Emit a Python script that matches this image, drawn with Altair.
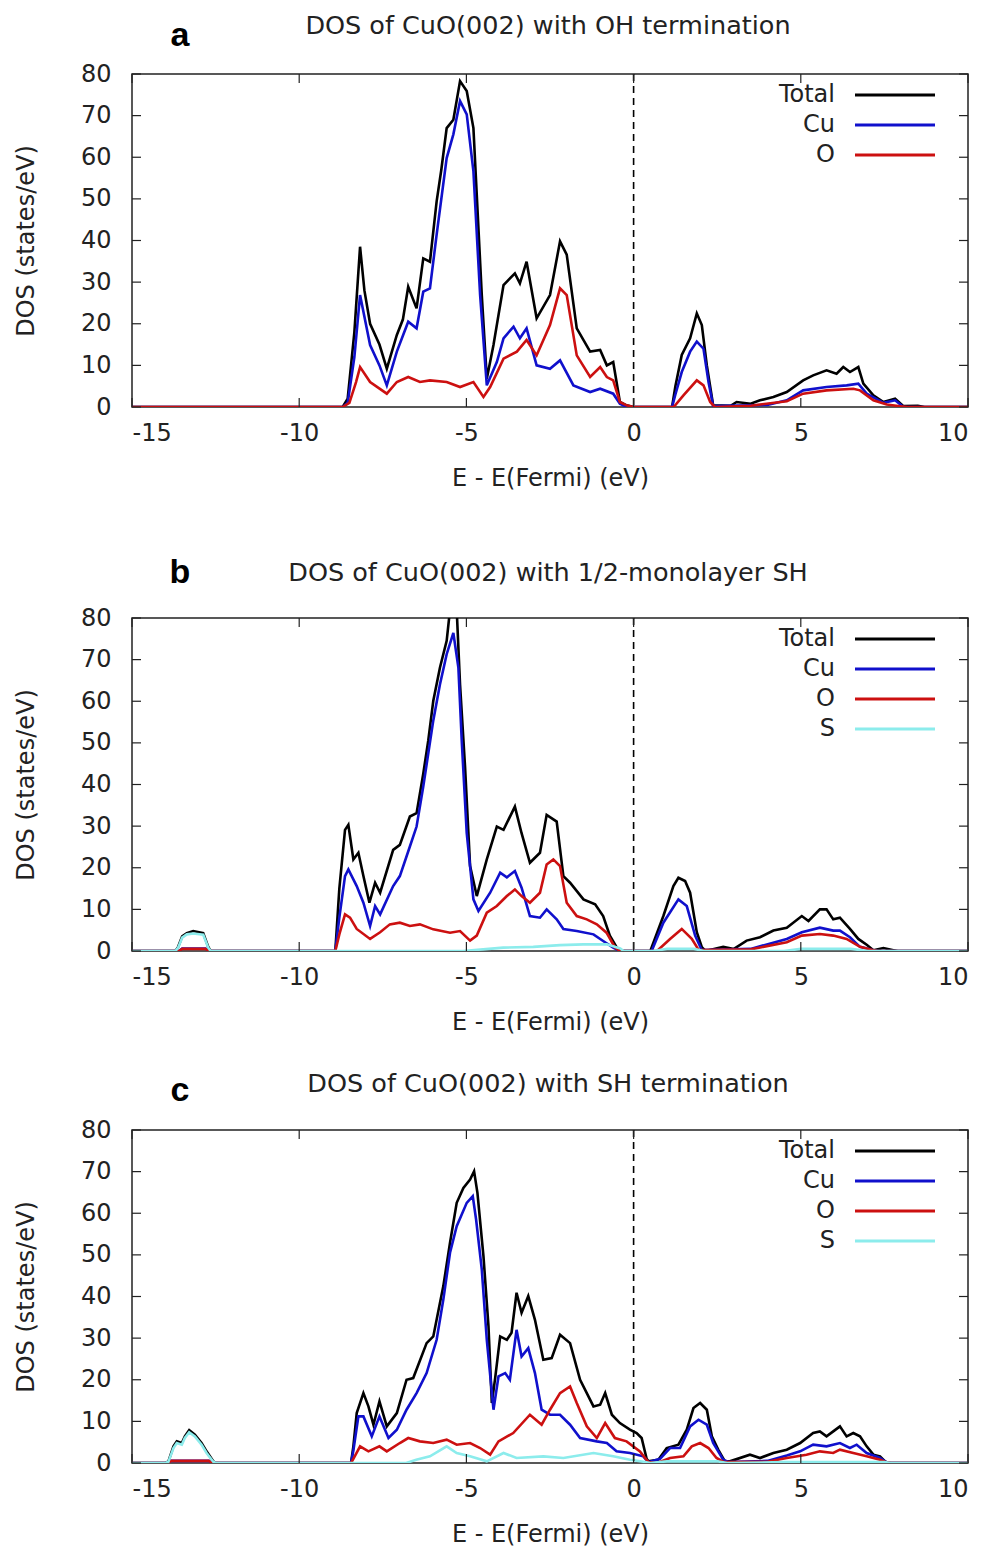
import altair as alt
import pandas as pd

FONT = "DejaVu Sans"
W, H = 836, 333
X_TICKS = [-15, -10, -5, 0, 5, 10]
Y_TICKS = [0, 10, 20, 30, 40, 50, 60, 70, 80]
COLORS = {"Total": "#000000", "Cu": "#1010cc", "O": "#cc1010", "S": "#8cecec"}

TITLES = ["DOS of CuO(002) with OH termination",
          "DOS of CuO(002) with 1/2-monolayer SH",
          "DOS of CuO(002) with SH termination"]
LETTERS = ["a", "b", "c"]

# ---------------- panel a ----------------
A_TOTAL_E = [-15, -8.7, -8.55, -8.35, -8.18, -8.05, -7.88, -7.6, -7.38, -7.08, -6.9, -6.74, -6.49, -6.29, -6.09,
             -5.89, -5.75, -5.59, -5.39, -5.19, -4.99, -4.79, -4.69, -4.54, -4.39, -4.19, -3.89, -3.55, -3.40,
             -3.20, -2.90, -2.50, -2.20, -2.00, -1.70, -1.30, -1.00, -0.80, -0.61, -0.41, -0.21, 0.0, 1.15, 1.25,
             1.44, 1.69, 1.89, 2.04, 2.19, 2.38, 2.9, 3.08, 3.5, 3.78, 4.18, 4.58, 5.07, 5.37, 5.77, 6.07, 6.27,
             6.47, 6.72, 6.87, 7.17, 7.47, 7.82, 8.07, 8.5, 8.7, 10]
A_TOTAL_V = [0, 0, 2, 18, 38.5, 28, 20, 15, 9.2, 17.3, 21, 28.9, 23.7, 35.7, 34.9,
             49.4, 57, 67, 69, 78.3, 75.9, 67, 51, 26.9, 6.8, 14.9, 29.3, 32.1, 29.7,
             34.9, 21.3, 26.9, 39.8, 36.6, 18.9, 13.3, 13.7, 10, 10.8, 1.2, 0.4, 0, 0, 5,
             12.5, 16.5, 22.5, 19.7, 10, 0.4, 0.3, 1.2, 0.8, 1.6, 2.4, 3.6, 6.4, 7.6, 8.8, 8.0, 9.6,
             8.4, 9.6, 5.6, 2.8, 1.2, 2.0, 0.2, 0.3, 0, 0]
A_CU_E = [-15, -8.7, -8.55, -8.35, -8.18, -7.88, -7.6, -7.38, -7.08, -6.74, -6.49, -6.29, -6.09, -5.89, -5.59,
          -5.39, -5.19, -4.99, -4.79, -4.59, -4.39, -4.09, -3.89, -3.59, -3.40, -3.20, -2.90, -2.50, -2.20,
          -1.80, -1.30, -1.00, -0.61, -0.41, -0.2, 1.15, 1.25, 1.44, 1.69, 1.89, 2.09, 2.24, 2.38, 4.0, 4.58,
          5.07, 5.77, 6.37, 6.72, 6.97, 7.47, 7.82, 8.07, 10]
A_CU_V = [0, 0, 1, 12, 26.9, 14.9, 10, 5.2, 13.3, 20.5, 18.9, 27.7, 28.5, 41.4, 59.8,
          65.5, 73.5, 70.3, 56.6, 26.9, 5.2, 10.8, 16.5, 19.3, 16.5, 18.9, 10, 9.2, 11.2,
          5.2, 3.6, 4.4, 3.2, 0.8, 0, 0, 3, 8.4, 13.3, 15.7, 14, 6, 0.2, 0.5, 1.6,
          4, 4.8, 5.2, 5.6, 3.2, 1.0, 1.6, 0, 0]
A_O_E = [-15, -8.7, -8.5, -8.3, -8.18, -7.88, -7.38, -7.08, -6.74, -6.39, -6.09, -5.59, -5.19, -4.79, -4.49,
         -4.29, -3.89, -3.49, -3.20, -2.90, -2.50, -2.20, -2.00, -1.70, -1.30, -1.00, -0.80, -0.61, -0.41,
         -0.21, 0, 1.2, 1.49, 1.89, 2.09, 2.29, 2.43, 3.5, 4.58, 5.07, 5.77, 6.57, 6.77, 7.17, 7.57, 7.97,
         8.2, 10]
A_O_V = [0, 0, 1, 6, 9.6, 6, 3.2, 6, 7.2, 6, 6.4, 6, 4.8, 6, 2.4,
         4.8, 11.6, 13.3, 16.1, 12.4, 19.7, 28.5, 26.9, 12.4, 7.2, 9.6, 7.2, 6.4, 1.2,
         0.4, 0, 0, 2.8, 6.4, 5.2, 1.2, 0, 0.3, 1.4, 3.2, 4, 4.4, 4, 1.6, 0.6, 0.2,
         0, 0]

# ---------------- panel b ----------------
B_TOTAL_E = [-15, -13.7, -13.62, -13.5, -13.36, -13.17, -12.87, -12.72, -12.65, -8.92, -8.8, -8.63, -8.53,
             -8.38, -8.23, -8.08, -7.90, -7.73, -7.58, -7.19, -6.99, -6.69, -6.49, -6.29, -6.14, -5.99, -5.79,
             -5.59, -5.49, -5.29, -5.19, -5.04, -4.89, -4.69, -4.39, -4.09, -3.89, -3.55, -3.35, -3.10, -2.80,
             -2.60, -2.30, -2.10, -1.90, -1.50, -1.15, -0.91, -0.71, -0.51, -0.36, 0.5, 0.89, 1.19, 1.34, 1.54,
             1.69, 1.89, 2.04, 2.15, 2.68, 3.0, 3.38, 3.78, 4.18, 4.58, 5.03, 5.23, 5.57, 5.77, 5.97, 6.17,
             6.47, 6.72, 6.97, 7.17, 7.47, 7.77, 7.9, 10]
B_TOTAL_V = [0, 0, 1, 3.5, 4.3, 4.8, 4.3, 1, 0, 0, 15, 29.1, 30.3,
             22, 23.6, 18, 11.6, 16.4, 14, 24.3, 25.5, 32.3, 33.1, 42.6, 50.6, 60.1, 68.1,
             74.5, 82, 82, 64, 44.2, 20.4, 13.2, 22, 29.9, 29.1, 34.7, 28.3, 21.2, 23.6,
             32.7, 31.1, 18, 16.4, 12.4, 11.2, 8.4, 3.7, 0.9, 0, 0, 8.4, 15.6, 17.6, 16.8,
             14, 4.5, 0.9, 0, 1, 0.5, 2.5, 3.3, 4.9, 5.6, 8.4, 7.2, 10, 10, 7.6, 8,
             5.3, 2.9, 1.5, 0.2, 0.7, 0.2, 0, 0]
B_CU_E = [-15, -13.6, -13.5, -12.8, -12.7, -8.92, -8.8, -8.63, -8.53, -8.28, -8.08, -7.88, -7.73, -7.58,
          -7.19, -6.99, -6.69, -6.49, -6.29, -5.99, -5.79, -5.59, -5.39, -5.24, -5.14, -4.99, -4.79, -4.64,
          -4.29, -3.99, -3.79, -3.55, -3.35, -3.10, -2.80, -2.60, -2.30, -2.10, -1.70, -1.20, -0.91, -0.61,
          -0.41, 0.54, 0.89, 1.34, 1.59, 1.84, 2.04, 3.5, 4.58, 5.03, 5.57, 5.97, 6.17, 6.47, 6.77, 7.17,
          7.3, 10]
B_CU_V = [0, 0, 0.6, 0.6, 0, 0, 8, 18, 19.6, 15.6, 11.6, 6, 10.8, 8.8,
          15.6, 18, 25.1, 29.9, 39.5, 55.4, 64.1, 71.3, 76.4, 68.1, 50.6, 28.3, 12.4, 9.6,
          14, 18.8, 17.7, 19.2, 15.2, 8.4, 8.0, 10, 7.6, 5.3, 4.8, 4, 2.4, 0.8,
          0, 0, 6.8, 12.4, 10.8, 3.7, 0.2, 0.5, 2.9, 4.5, 5.6, 4.9, 4.9, 3.3, 1.0, 0.2,
          0, 0]
B_O_E = [-15, -13.6, -13.5, -12.8, -12.7, -8.92, -8.8, -8.63, -8.48, -8.28, -7.88, -7.58, -7.29, -6.99,
         -6.69, -6.39, -5.99, -5.49, -5.19, -4.89, -4.69, -4.39, -4.09, -3.79, -3.55, -3.35, -3.10, -2.80,
         -2.60, -2.40, -2.20, -2.00, -1.70, -1.40, -1.10, -0.81, -0.56, -0.41, 0.7, 1.09, 1.44, 1.74, 1.95,
         3.5, 4.58, 5.03, 5.57, 5.97, 6.37, 6.77, 7.17, 7.3, 10]
B_O_V = [0, 0, 0.5, 0.5, 0, 0, 4, 8.8, 8.0, 5.3, 2.9, 4.5, 6.4, 6.8,
         6.0, 6.4, 5.2, 4.4, 4.8, 2.5, 3.7, 9.2, 10.8, 13.2, 14.8, 13.2, 11.6, 14,
         20.8, 22, 20.4, 11.6, 8.4, 7.6, 6.4, 4.4, 0.9, 0, 0, 2.9, 5.3, 2.9, 0.2,
         0.4, 2.1, 3.7, 4.1, 3.7, 2.9, 1.0, 0.2, 0, 0]
B_S_E = [-15, -13.7, -13.62, -13.5, -13.36, -13.17, -12.87, -12.72, -12.65, -5.1, -4.5, -3.9, -3.0, -2.2,
         -1.5, -0.8, -0.4, -0.3, 0.6, 1.0, 1.8, 2.1, 4.5, 5.0, 6.5, 7.0, 10]
B_S_V = [0, 0, 0.8, 3.2, 4.0, 4.2, 3.9, 0.8, 0, 0, 0.4, 0.8, 1.0, 1.4,
         1.6, 1.6, 0.6, 0, 0, 0.5, 0.5, 0, 0, 0.5, 0.5, 0, 0]

# ---------------- panel c ----------------
C_TOTAL_E = [-15, -14.0, -13.91, -13.76, -13.66, -13.51, -13.42, -13.29, -13.12, -12.92, -12.77, -12.57,
             -12.5, -8.45, -8.38, -8.28, -8.08, -7.93, -7.78, -7.60, -7.38, -7.08, -6.79, -6.59, -6.19, -5.99,
             -5.69, -5.49, -5.29, -5.09, -4.89, -4.77, -4.67, -4.49, -4.34, -4.24, -4.14, -3.99, -3.79, -3.65,
             -3.50, -3.35, -3.15, -2.95, -2.70, -2.45, -2.20, -1.90, -1.60, -1.20, -1.00, -0.85, -0.65, -0.41,
             -0.11, 0.09, 0.24, 0.39, 0.44, 0.74, 0.99, 1.34, 1.59, 1.79, 1.99, 2.19, 2.34, 2.53, 2.73, 2.88,
             3.48, 3.78, 4.18, 4.58, 4.98, 5.37, 5.57, 5.77, 5.97, 6.17, 6.37, 6.57, 6.77, 6.97, 7.17, 7.37,
             7.52, 7.6, 10]
C_TOTAL_V = [0, 0, 0.4, 4, 5.2, 4.8, 6.4, 7.9, 6.8, 4.8, 2.8, 0.4,
             0, 0, 4, 12, 16.8, 13.6, 9.2, 14.8, 8.8, 12, 20, 20.4, 28.8, 30.4,
             42.5, 52.9, 62.5, 66.1, 68.1, 70.1, 64.9, 49.7, 32.9, 14.4, 20.4, 30.4, 29.6, 31.3,
             40.9, 36.1, 40.1, 34.4, 24.8, 25.2, 30.8, 28.8, 20, 13.6, 14, 16.8, 11.6, 9.6,
             8, 7.2, 6, 1, 0.4, 0.8, 3.6, 4.4, 8, 13.2, 14.4, 12.8, 6.4, 3.2, 0.4, 0.4,
             2, 1.2, 2.4, 3.2, 4.8, 7.2, 7.6, 6.4, 7.6, 8.8, 6.4, 7.2, 6.4, 4, 2, 1.6,
             0.4, 0, 0]
C_CU_E = [-15, -13.9, -13.85, -12.7, -12.6, -8.45, -8.38, -8.23, -8.08, -7.83, -7.60, -7.33, -7.08, -6.79,
          -6.49, -6.19, -5.89, -5.69, -5.49, -5.29, -4.99, -4.81, -4.71, -4.54, -4.39, -4.19, -4.04, -3.84,
          -3.70, -3.50, -3.35, -3.15, -2.95, -2.75, -2.50, -2.20, -1.90, -1.60, -1.10, -0.80, -0.51, -0.11,
          0.29, 0.44, 0.79, 1.09, 1.39, 1.69, 1.94, 2.19, 2.38, 2.68, 2.85, 4.0, 4.58, 4.98, 5.37, 5.77,
          6.17, 6.47, 6.67, 6.97, 7.37, 7.55, 7.7, 10]
C_CU_V = [0, 0, 0.5, 0.5, 0, 0, 3, 11.2, 11.2, 6.4, 11.2, 6, 8, 12.8,
          16.8, 21.6, 29.6, 39.3, 50.5, 56.9, 62.5, 64.1, 58.5, 46.5, 29.6, 12.8, 20.8, 21.6,
          20, 32, 25.6, 27.6, 21.6, 12.8, 11.6, 11.6, 9.2, 6, 5.2, 4.8, 2.8, 2.4,
          1.6, 0.2, 1, 3.6, 3.6, 8.8, 10.4, 9.2, 4.8, 0.8, 0.2, 0.5, 1.8, 2.8, 4.4, 4,
          4.8, 3.6, 4.4, 2.4, 1.2, 0.2, 0, 0]
C_O_E = [-15, -13.9, -13.85, -12.7, -12.6, -8.45, -8.38, -8.18, -7.93, -7.60, -7.38, -6.99, -6.74, -6.39,
         -5.99, -5.59, -5.29, -4.89, -4.59, -4.29, -4.04, -3.60, -3.10, -2.75, -2.50, -2.20, -1.90, -1.70,
         -1.40, -1.10, -0.85, -0.56, -0.21, 0.19, 0.44, 0.7, 1.09, 1.49, 1.74, 1.99, 2.24, 2.48, 2.7, 4.0,
         4.58, 5.17, 5.57, 5.97, 6.17, 6.57, 6.97, 7.37, 7.55, 7.7, 10]
C_O_V = [0, 0, 0.5, 0.5, 0, 0, 1, 4, 2.8, 4, 2.8, 4.8, 6, 5.2,
         4.8, 5.6, 4.4, 4.8, 3.6, 2, 5.2, 7.2, 11.6, 9.2, 12.8, 16.8, 18.4, 14.4,
         8.8, 6, 9.6, 6, 5.2, 2.8, 0.2, 0, 1.2, 1.6, 4, 4.8, 3.6, 1.2, 0.2, 0.3,
         1.2, 2, 2.8, 2.4, 3.2, 2.4, 1.6, 0.8, 0.2, 0, 0]
C_S_E = [-15, -14.0, -13.91, -13.76, -13.66, -13.51, -13.42, -13.29, -13.12, -12.92, -12.77, -12.57, -12.5,
         -6.8, -6.5, -6.09, -5.59, -5.29, -4.89, -4.39, -3.89, -3.50, -2.70, -2.10, -1.20, -0.61, -0.11,
         0.3, 0.5, 1.0, 2.5, 2.8, 4.5, 7.5, 7.7, 10]
C_S_V = [0, 0, 0.3, 3.6, 4.8, 4.4, 6.0, 7.4, 6.4, 4.4, 2.4, 0.3, 0,
         0, 0.8, 1.6, 4, 2.4, 1.6, 0.4, 2.4, 1.2, 1.6, 1.2, 2.4, 1.6, 0.8,
         0.3, 0, 0.4, 0.4, 0, 0.2, 0.2, 0, 0]

PANELS = [
    [("Total", A_TOTAL_E, A_TOTAL_V), ("Cu", A_CU_E, A_CU_V), ("O", A_O_E, A_O_V)],
    [("Total", B_TOTAL_E, B_TOTAL_V), ("Cu", B_CU_E, B_CU_V), ("O", B_O_E, B_O_V), ("S", B_S_E, B_S_V)],
    [("Total", C_TOTAL_E, C_TOTAL_V), ("Cu", C_CU_E, C_CU_V), ("O", C_O_E, C_O_V), ("S", C_S_E, C_S_V)],
]
# vertical placement of the panel letter / title relative to plot top (pixels)
HEAD_Y = [(-38, -48), (-45, -45), (-39, -46)]

XS = alt.Scale(domain=[-15, 10], nice=False, zero=False)
YS = alt.Scale(domain=[0, 80], nice=False, zero=False)
X_AXIS = alt.Axis(values=X_TICKS, labelExpr="'' + datum.value", title="E - E(Fermi) (eV)",
                  labelPadding=14, titlePadding=21)
Y_AXIS = alt.Axis(values=Y_TICKS, labelExpr="'' + datum.value", title="DOS (states/eV)",
                  labelPadding=21, titlePadding=42)


def xenc():
    return alt.X("E:Q", scale=XS, axis=X_AXIS)


def yenc():
    return alt.Y("DOS:Q", scale=YS, axis=Y_AXIS)


def make_panel(i):
    series = PANELS[i]
    layers = []
    for k, (name, e, v) in enumerate(series):
        df = pd.DataFrame({"E": e, "DOS": v})
        layers.append(
            alt.Chart(df).mark_line(color=COLORS[name], strokeWidth=2.6, clip=True).encode(
                x=xenc(), y=yenc())
        )
    # Fermi level
    layers.append(
        alt.Chart(pd.DataFrame({"E": [0.0]})).mark_rule(color="black", strokeWidth=1.6,
                                                        strokeDash=[7, 5]).encode(x=xenc())
    )
    # inward ticks
    xt = pd.DataFrame({"E": X_TICKS})
    yt = pd.DataFrame({"DOS": Y_TICKS})
    layers.append(alt.Chart(xt).mark_rule(color="#222", strokeWidth=1.2).encode(
        x=xenc(), y=alt.value(H), y2=alt.value(H - 9)))
    layers.append(alt.Chart(xt).mark_rule(color="#222", strokeWidth=1.2).encode(
        x=xenc(), y=alt.value(0), y2=alt.value(9)))
    layers.append(alt.Chart(yt).mark_rule(color="#222", strokeWidth=1.2).encode(
        y=yenc(), x=alt.value(0), x2=alt.value(9)))
    layers.append(alt.Chart(yt).mark_rule(color="#222", strokeWidth=1.2).encode(
        y=yenc(), x=alt.value(W), x2=alt.value(W - 9)))
    # legend (gnuplot style: label left, sample right)
    for k, (name, _, _) in enumerate(series):
        ly = 21 + 30 * k
        ldf = pd.DataFrame({"name": [name]})
        layers.append(alt.Chart(ldf).mark_text(align="right", baseline="middle", font=FONT,
                                               fontSize=24, color="#222").encode(
            text="name:N", x=alt.value(703), y=alt.value(ly)))
        layers.append(alt.Chart(ldf).mark_rule(color=COLORS[name], strokeWidth=3).encode(
            x=alt.value(723), x2=alt.value(803), y=alt.value(ly)))
    # panel letter and title
    letter_y, title_y = HEAD_Y[i]
    layers.append(alt.Chart(pd.DataFrame({"t": [LETTERS[i]]})).mark_text(
        font="Liberation Sans", fontSize=34, fontWeight="bold", color="black",
        align="center", baseline="middle").encode(
        text="t:N", x=alt.value(48), y=alt.value(letter_y)))
    layers.append(alt.Chart(pd.DataFrame({"t": [TITLES[i]]})).mark_text(
        font=FONT, fontSize=25.5, color="#222", align="center", baseline="middle").encode(
        text="t:N", x=alt.value(W / 2 - 2), y=alt.value(title_y)))
    return alt.layer(*layers).properties(width=W, height=H)


pa, pb, pc = make_panel(0), make_panel(1), make_panel(2)
chart = alt.vconcat(pa, alt.vconcat(pb, pc, spacing=36), spacing=64).configure_view(
    stroke="#222", strokeWidth=1.5
).configure_axis(
    labelFont=FONT, titleFont=FONT, labelFontSize=24, titleFontSize=24,
    labelColor="#222", titleColor="#222", titleFontWeight="normal",
    domain=False, ticks=False, grid=False
)
chart.save("out.html", embed_options={"renderer": "svg", "actions": False})
